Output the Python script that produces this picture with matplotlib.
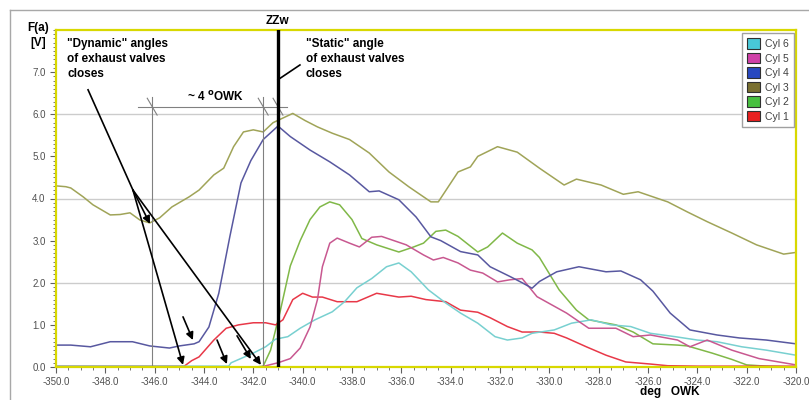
import matplotlib.pyplot as plt
from matplotlib.patches import Patch
from matplotlib.lines import Line2D
from matplotlib.ticker import MultipleLocator

plt.rcParams['font.family'] = ['Liberation Sans', 'DejaVu Sans']

# Crank angle [deg OWK] / signal [V] per cylinder
cyl3_x = [-350.0, -349.6, -349.4, -348.9, -348.5, -347.8, -347.4, -347.0, -346.6, -346.2,
          -345.8, -345.3, -344.6, -344.2, -343.6, -343.2, -342.8, -342.4, -342.0, -341.6,
          -341.2, -340.8, -340.4, -339.9, -339.4, -338.8, -338.1, -337.3, -336.5, -335.7,
          -334.8, -334.5, -333.7, -333.2, -332.9, -332.1, -331.3, -330.4, -329.4, -328.9,
          -327.9, -327.0, -326.4, -325.2, -324.4, -323.6, -322.6, -321.6, -320.5, -320.0]
cyl3_y = [4.30, 4.28, 4.25, 4.04, 3.85, 3.61, 3.62, 3.66, 3.49, 3.42,
          3.54, 3.80, 4.04, 4.20, 4.56, 4.72, 5.23, 5.58, 5.63, 5.58,
          5.80, 5.91, 6.02, 5.85, 5.70, 5.55, 5.40, 5.08, 4.63, 4.28,
          3.92, 3.92, 4.63, 4.75, 5.00, 5.23, 5.10, 4.72, 4.32, 4.46,
          4.32, 4.10, 4.16, 3.92, 3.68, 3.45, 3.18, 2.90, 2.68, 2.72]

cyl4_x = [-350.0, -349.4, -348.6, -347.8, -346.9, -346.2, -345.4, -345.0, -344.4, -344.2,
          -343.8, -343.4, -342.95, -342.5, -342.1, -341.6, -341.0, -340.5, -339.7, -338.9,
          -338.1, -337.3, -336.9, -336.1, -335.4, -334.8, -334.4, -333.6, -332.9, -332.4,
          -331.6, -331.1, -330.7, -330.4, -329.7, -328.8, -327.7, -327.1, -326.3, -325.8,
          -325.1, -324.3, -323.2, -322.3, -321.2, -320.0]
cyl4_y = [0.52, 0.52, 0.48, 0.60, 0.60, 0.50, 0.45, 0.50, 0.55, 0.60,
          0.95, 1.75, 3.10, 4.37, 4.90, 5.40, 5.72, 5.47, 5.15, 4.87,
          4.56, 4.16, 4.18, 3.97, 3.56, 3.09, 3.00, 2.74, 2.66, 2.38,
          2.15, 2.00, 1.87, 2.03, 2.26, 2.38, 2.26, 2.28, 2.07, 1.80,
          1.28, 0.88, 0.76, 0.69, 0.64, 0.55]

cyl2_x = [-350.0, -341.9, -341.6, -341.3, -340.9, -340.5, -340.1, -339.7, -339.3, -338.9,
          -338.5, -338.0, -337.6, -337.0, -336.1, -335.5, -335.1, -334.6, -334.2, -333.7,
          -332.9, -332.5, -331.9, -331.3, -330.7, -330.4, -329.6, -328.9, -328.4, -327.3,
          -326.6, -325.8, -324.8, -324.4, -323.4, -322.6, -322.0, -321.2, -320.0]
cyl2_y = [0.0, 0.0, 0.02, 0.40, 1.35, 2.40, 3.00, 3.50, 3.80, 3.92,
          3.85, 3.50, 3.05, 2.90, 2.73, 2.85, 2.94, 3.22, 3.25, 3.10,
          2.73, 2.85, 3.18, 2.94, 2.78, 2.60, 1.83, 1.35, 1.12, 1.00,
          0.83, 0.55, 0.52, 0.50, 0.33, 0.18, 0.05, 0.02, 0.0]

cyl5_x = [-350.0, -341.7, -341.0, -340.5, -340.1, -339.7, -339.4, -339.2, -338.9, -338.6,
          -338.1, -337.7, -337.2, -336.8, -336.3, -335.8, -335.1, -334.7, -334.3, -333.7,
          -333.2, -332.7, -332.1, -331.6, -331.1, -330.5, -329.3, -328.4, -327.3, -326.6,
          -325.9, -324.8, -324.3, -323.6, -322.6, -321.5, -320.0]
cyl5_y = [0.0, 0.0, 0.10, 0.20, 0.45, 0.95, 1.60, 2.38, 2.94, 3.06,
          2.94, 2.85, 3.08, 3.10, 3.00, 2.90, 2.66, 2.54, 2.60, 2.47,
          2.30, 2.23, 2.02, 2.07, 2.10, 1.67, 1.28, 0.92, 0.92, 0.72,
          0.76, 0.64, 0.48, 0.64, 0.40, 0.20, 0.05]

cyl1_x = [-350.0, -344.8, -344.5, -344.2, -343.6, -343.1, -342.6, -342.0, -341.5, -341.1,
          -340.8, -340.4, -340.0, -339.6, -339.2, -338.6, -337.8, -337.0, -336.1, -335.6,
          -335.0, -334.2, -333.6, -332.9, -332.4, -331.7, -331.1, -330.4, -329.8, -329.3,
          -328.5, -327.7, -326.9, -325.9, -325.2, -324.0, -320.0]
cyl1_y = [0.02, 0.02, 0.15, 0.24, 0.64, 0.92, 1.00, 1.05, 1.05, 1.00,
          1.12, 1.60, 1.75, 1.66, 1.66, 1.55, 1.55, 1.75, 1.66, 1.68,
          1.60, 1.55, 1.35, 1.30, 1.17, 0.96, 0.83, 0.83, 0.80, 0.69,
          0.48, 0.28, 0.12, 0.07, 0.03, 0.02, 0.02]

cyl6_x = [-350.0, -343.0, -342.9, -342.0, -341.5, -341.1, -340.6, -340.1, -339.5, -338.8,
          -338.3, -337.8, -337.2, -336.6, -336.1, -335.6, -334.9, -334.2, -333.6, -332.9,
          -332.2, -331.7, -331.1, -330.7, -329.8, -329.1, -328.3, -327.5, -326.7, -325.9,
          -324.9, -324.0, -323.2, -322.2, -321.2, -320.0]
cyl6_y = [0.02, 0.02, 0.10, 0.33, 0.48, 0.66, 0.72, 0.92, 1.12, 1.31,
          1.55, 1.88, 2.10, 2.38, 2.47, 2.26, 1.83, 1.52, 1.28, 1.04,
          0.72, 0.64, 0.69, 0.80, 0.88, 1.04, 1.12, 1.00, 0.96, 0.80,
          0.72, 0.64, 0.60, 0.48, 0.40, 0.28]

labels = ['Cyl 6', 'Cyl 5', 'Cyl 4', 'Cyl 3', 'Cyl 2', 'Cyl 1']
legend_colors = ['#48c8d8', '#d040a8', '#2848c0', '#7a7030', '#48c040', '#e82020']

fig = plt.figure(figsize=(8.09, 4.0), dpi=100)
ax = fig.add_axes([0.0692, 0.0825, 0.9147, 0.8425])

# grey frame of the screenshot
fig.add_artist(Line2D([10 / 809, 1], [1 - 10 / 400] * 2, color='#a8a8a8', lw=1))
fig.add_artist(Line2D([10 / 809] * 2, [0, 1 - 10 / 400], color='#a8a8a8', lw=1))

for y in [2, 4, 6]:
    ax.axhline(y, color='#cccccc', lw=1, zorder=0)

lw = 1.1
ax.plot(cyl3_x, cyl3_y, color='#a0a458', lw=lw)
ax.plot(cyl2_x, cyl2_y, color='#80b848', lw=lw)
ax.plot(cyl1_x, cyl1_y, color='#e83848', lw=lw)
ax.plot(cyl6_x, cyl6_y, color='#78d0d0', lw=lw)
ax.plot(cyl5_x, cyl5_y, color='#c85890', lw=lw)
ax.plot(cyl4_x, cyl4_y, color='#5858a0', lw=lw)

ax.set_xlim(-350, -320)
ax.set_ylim(0, 8)
ax.set_xticks([-350 + 2 * i for i in range(16)])
ax.set_xticklabels([f'{-350 + 2 * i:.1f}' for i in range(16)])
ax.set_yticks(range(8))
ax.set_yticklabels([f'{i:.1f}' for i in range(8)])
ax.xaxis.set_minor_locator(MultipleLocator(0.5))
ax.yaxis.set_minor_locator(MultipleLocator(0.1))
ax.tick_params(which='both', direction='out', color='#606060', labelcolor='#505050',
               labelsize=7)
ax.tick_params(which='major', length=4)
ax.tick_params(which='minor', length=2)
for s in ax.spines.values():
    s.set_color('#d8d800')
    s.set_linewidth(1.6)

# angle markers
ax.axvline(-341.0, color='black', lw=2.4, zorder=5)
for xv in [-346.1, -341.6]:
    ax.plot([xv, xv], [0, 6.4], color='#808080', lw=0.8)
ax.plot([-346.68, -340.64], [6.18, 6.18], color='#808080', lw=0.8)
for xv in [-346.1, -341.6, -341.0]:
    ax.plot([xv - 0.2, xv + 0.2], [6.38, 5.98], color='#808080', lw=0.8)
ax.text(-343.55, 6.42, r'~ 4 $^{\mathbf{o}}$OWK', fontsize=8.5, fontweight='bold',
        ha='center', va='center')

ax.text(-341.04, 8.22, 'ZZw', fontsize=8.5, fontweight='bold', ha='center',
        va='center', clip_on=False)
ax.text(-349.55, 7.82, '"Dynamic" angles\nof exhaust valves\ncloses', fontsize=8.5,
        fontweight='bold', ha='left', va='top', linespacing=1.35)
ax.text(-339.87, 7.82, '"Static" angle\nof exhaust valves\ncloses', fontsize=8.5,
        fontweight='bold', ha='left', va='top', linespacing=1.35)
ax.plot([-340.11, -341.0], [7.17, 6.82], color='black', lw=1.2)

# arrows to the dynamic closing angles
ax.plot([-348.70, -346.88], [6.58, 4.20], color='black', lw=1.2)
arrow = dict(arrowstyle='-|>', color='black', lw=1.2, mutation_scale=11,
             shrinkA=0, shrinkB=0)
for tip in [(-344.85, 0.05), (-346.19, 3.40), (-341.69, 0.05)]:
    ax.annotate('', xy=tip, xytext=(-346.88, 4.20), arrowprops=arrow)
for start, tip in [((-344.85, 1.19), (-344.45, 0.64)),
                   ((-343.47, 0.64), (-343.07, 0.07)),
                   ((-342.66, 0.74), (-342.10, 0.19))]:
    ax.annotate('', xy=tip, xytext=start, arrowprops=arrow)

fig.text(0.047, 1 - 22 / 400, 'F(a)\n[V]', fontsize=8.5, fontweight='bold',
         ha='center', va='top', multialignment='center', linespacing=1.3)
fig.text(670 / 809, 1 - 392 / 400, 'deg   OWK', fontsize=8.5, fontweight='bold',
         ha='center', va='center')

handles = [Patch(facecolor=c, edgecolor='#303030', lw=0.8) for c in legend_colors]
leg = fig.legend(handles, labels, loc='upper left', bbox_to_anchor=(742 / 809, 1 - 33 / 400),
                 fontsize=7.5, handlelength=1.2, handleheight=1.2, handletextpad=0.5,
                 labelspacing=0.35, borderpad=0.5, borderaxespad=0, fancybox=False,
                 framealpha=1)
leg.get_frame().set_edgecolor('#a0a0a0')
leg.get_frame().set_linewidth(1.0)
for t in leg.get_texts():
    t.set_color('#404040')

fig.savefig('out.png', dpi=100)
